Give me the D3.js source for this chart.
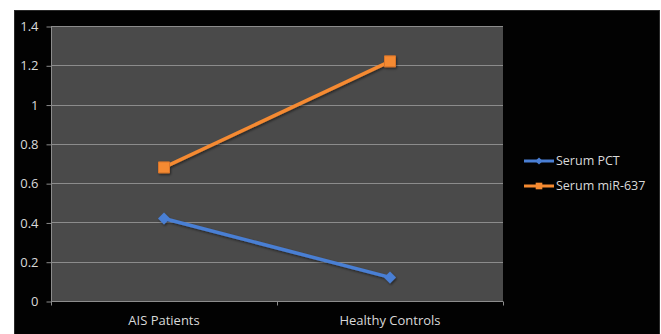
<!DOCTYPE html>
<html>
<head>
<meta charset="utf-8">
<script src="https://cdn.jsdelivr.net/npm/d3@7"></script>
<style>
  html, body { margin: 0; padding: 0; background: #ffffff; }
  svg { display: block; }
  text { font-family: "Open Sans", "Liberation Sans", sans-serif; }
</style>
</head>
<body>
<svg id="chart" width="661" height="334"></svg>
<script>
// Chart data
const categories = ["AIS Patients", "Healthy Controls"];
const seriesNames = ["Serum PCT", "Serum miR-637"];
const serumPCT = [0.42, 0.12];
const serumMiR637 = [0.68, 1.22];
const yTicks = [0, 0.2, 0.4, 0.6, 0.8, 1, 1.2, 1.4];
const seriesColors = ["#4a7fd4", "#f58a31"];

const svg = d3.select("#chart");

// Dark chart frame
svg.append("rect")
  .attr("x", 14.5).attr("y", 10.5)
  .attr("width", 645).attr("height", 330)
  .attr("fill", "#020202")
  .attr("stroke", "#2a2a2a").attr("stroke-width", 1);

const plot = { left: 51, right: 503, top: 26, bottom: 301 };

const x = d3.scaleBand().domain(categories).range([plot.left, plot.right]).padding(0);
const y = d3.scaleLinear().domain([0, 1.4]).range([plot.bottom, plot.top]);

// Plot background
svg.append("rect")
  .attr("x", plot.left).attr("y", plot.top)
  .attr("width", plot.right - plot.left).attr("height", plot.bottom - plot.top)
  .attr("fill", "#4a4a4a");

// Gridlines
svg.append("g").selectAll("line").data(yTicks.filter(d => d > 0)).join("line")
  .attr("x1", plot.left).attr("x2", plot.right)
  .attr("y1", d => Math.round(y(d)) + 0.5).attr("y2", d => Math.round(y(d)) + 0.5)
  .attr("stroke", "#8c8c8c").attr("stroke-width", 1);

// Y axis
const yAxis = svg.append("g")
  .attr("transform", `translate(${plot.left + 0.5},0.5)`)
  .call(d3.axisLeft(y).tickValues(yTicks).tickSize(5).tickPadding(8).tickFormat(d3.format("~g")));
yAxis.select(".domain").attr("stroke", "#8c8c8c").attr("d", `M0,${plot.top}V${plot.bottom}`);
yAxis.selectAll(".tick line").attr("stroke", "#8c8c8c");
yAxis.selectAll(".tick text").attr("fill", "#d9d9d9").attr("font-size", 13);

// X axis with boundary ticks between categories
const xAxisG = svg.append("g").attr("transform", `translate(0,${plot.bottom + 0.5})`);
xAxisG.append("line")
  .attr("x1", plot.left).attr("x2", plot.right)
  .attr("stroke", "#8c8c8c");
const boundaries = [plot.left, ...categories.map(c => x(c) + x.bandwidth())];
xAxisG.selectAll("line.b").data(boundaries).join("line")
  .attr("class", "b")
  .attr("x1", d => Math.round(d) + 0.5).attr("x2", d => Math.round(d) + 0.5)
  .attr("y1", 0).attr("y2", 4)
  .attr("stroke", "#8c8c8c");
xAxisG.selectAll("text").data(categories).join("text")
  .attr("x", d => x(d) + x.bandwidth() / 2)
  .attr("y", 23)
  .attr("text-anchor", "middle")
  .attr("fill", "#d9d9d9")
  .attr("font-size", 13)
  .text(d => d);

// Series
const series = [
  { name: seriesNames[0], values: serumPCT, color: seriesColors[0], marker: "diamond" },
  { name: seriesNames[1], values: serumMiR637, color: seriesColors[1], marker: "square" }
];

const line = d3.line()
  .x((d, i) => x(categories[i]) + x.bandwidth() / 2)
  .y(d => y(d));

const defs = svg.append("defs");
const shadow = defs.append("filter").attr("id", "shadow")
  .attr("x", "-50%").attr("y", "-50%").attr("width", "200%").attr("height", "200%");
shadow.append("feDropShadow")
  .attr("dx", 1).attr("dy", 1.5).attr("stdDeviation", 1.2)
  .attr("flood-color", "#000").attr("flood-opacity", 0.5);

const symbolPath = {
  diamond: d3.symbol().type(d3.symbolSquare).size(72),
  square: d3.symbol().type(d3.symbolSquare).size(121)
};

series.forEach(s => {
  const g = svg.append("g").attr("filter", "url(#shadow)");
  g.append("path")
    .datum(s.values)
    .attr("d", line)
    .attr("fill", "none")
    .attr("stroke", s.color)
    .attr("stroke-width", 3.5)
    .attr("stroke-linecap", "round");
  g.selectAll("path.m").data(s.values).join("path")
    .attr("class", "m")
    .attr("d", symbolPath[s.marker]())
    .attr("transform", (d, i) => {
      const cx = x(categories[i]) + x.bandwidth() / 2;
      const cy = y(d);
      return `translate(${cx},${cy})` + (s.marker === "diamond" ? " rotate(45)" : "");
    })
    .attr("fill", s.color)
    .attr("stroke", s.marker === "square" ? "#d9742a" : "none")
    .attr("stroke-width", 1);
});

// Legend
const legend = svg.append("g").attr("transform", "translate(524,161)");
series.forEach((s, i) => {
  const row = legend.append("g").attr("transform", `translate(0,${i * 25})`);
  row.append("line")
    .attr("x1", 0).attr("x2", 30).attr("y1", 0).attr("y2", 0)
    .attr("stroke", s.color).attr("stroke-width", 3);
  row.append("path")
    .attr("d", d3.symbol().type(d3.symbolSquare).size(s.marker === "diamond" ? 26 : 44)())
    .attr("transform", `translate(15,0)` + (s.marker === "diamond" ? " rotate(45)" : ""))
    .attr("fill", s.color);
  row.append("text")
    .attr("x", 32).attr("y", 0).attr("dy", "0.35em")
    .attr("fill", "#d9d9d9").attr("font-size", 12.5)
    .text(s.name);
});
</script>
</body>
</html>
